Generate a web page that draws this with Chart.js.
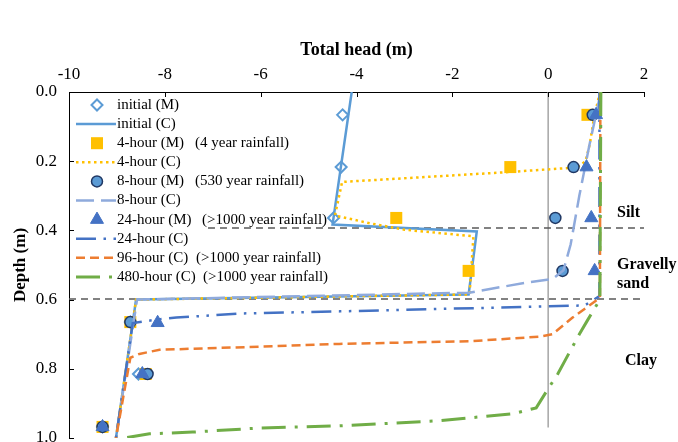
<html>
<head>
<script src="https://cdn.jsdelivr.net/npm/chart.js@4.4.0/dist/chart.umd.min.js"></script>
<style>
    body { margin: 0; overflow: hidden; background: #fff; }
    #wrap { width: 678px; height: 470px; }
</style>
</head>
<body>
<div id="wrap"><canvas id="myChart"></canvas></div>
<script>
    var serif = "'Liberation Serif', 'Times New Roman', serif";

    // axis ticks
    var headTicks = [-10, -8, -6, -4, -2, 0, 2];
    var depthTicks = [0, 0.2, 0.4, 0.6, 0.8, 1.0];

    // measured values [total head, depth]
    var initialM = [[-4.29, 0.066], [-4.32, 0.217], [-4.48, 0.364], [-8.72, 0.665], [-8.55, 0.815], [-9.3, 0.968]];
    var fourHourM = [[0.82, 0.066], [-0.79, 0.217], [-3.17, 0.364], [-1.66, 0.517], [-8.72, 0.665], [-8.4, 0.815], [-9.3, 0.968]];
    var eightHourM = [[0.93, 0.066], [0.53, 0.217], [0.15, 0.364], [0.30, 0.517], [-8.72, 0.665], [-8.36, 0.815], [-9.3, 0.968]];
    var dayM = [[1.0, 0.066], [0.80, 0.217], [0.9, 0.364], [0.97, 0.517], [-8.15, 0.667], [-8.47, 0.815], [-9.3, 0.968]];

    // computed profiles [total head, depth]
    var initialC = [[-4.1, 0], [-4.5, 0.383], [-1.49, 0.403], [-1.66, 0.585], [-8.6, 0.6], [-9.02, 1.0]];
    var fourHourC = [[1.08, 0], [0.95, 0.08], [0.87, 0.15], [0.78, 0.2], [0.6, 0.218], [-0.9, 0.232], [-4.3, 0.26],
        [-4.45, 0.357], [-3.7, 0.38], [-3.0, 0.398], [-1.56, 0.417], [-1.64, 0.585], [-8.6, 0.6], [-9.02, 1.0]];
    var eightHourC = [[1.1, 0], [0.86, 0.154], [0.65, 0.30], [0.47, 0.44], [0.32, 0.515], [0.1, 0.54], [-0.5, 0.552],
        [-1.65, 0.58], [-8.58, 0.6], [-9.02, 1.0]];
    var dayC = [[1.07, 0], [1.07, 0.59], [0.76, 0.617], [-4.35, 0.634], [-6.38, 0.64], [-7.76, 0.652], [-8.18, 0.658],
        [-8.67, 0.668], [-9.02, 1.0]];
    var fourDayC = [[1.09, 0], [1.08, 0.595], [0.51, 0.652], [0.09, 0.70], [-0.18, 0.707], [-1.58, 0.72], [-4.36, 0.728],
        [-6.02, 0.736], [-8.11, 0.745], [-8.53, 0.757], [-8.72, 0.768], [-9.02, 1.0]];
    var twentyDayC = [[1.1, 0], [1.08, 0.6], [0.82, 0.66], [0.65, 0.70], [0.2, 0.815], [-0.03, 0.864], [-0.25, 0.913],
        [-0.74, 0.93], [-2.27, 0.95], [-4.36, 0.965], [-6.02, 0.971], [-7.42, 0.983], [-8.32, 0.988], [-8.85, 1.0]];

    // layer boundaries and zero head line
    var siltBase = [[-7.1, 0.393], [2, 0.393]];
    var sandBase = [[-10, 0.598], [2, 0.598]];
    var zeroHead = [[0, 0], [0, 0.97]];

    var seriesNames = ['initial (M)', 'initial (C)', '4-hour (M)', '4-hour (C)', '8-hour (M)', '8-hour (C)',
        '24-hour (M)', '24-hour (C)', '96-hour (C)', '480-hour (C)'];
    var rainfallNotes = ['', '', '(4 year rainfall)', '', '(530 year rainfall)', '', '(>1000 year rainfall)', '',
        '(>1000 year rainfall)', '(>1000 year rainfall)'];
    var layerNames = ['Silt', 'Gravelly', 'sand', 'Clay'];

    function toXY(pts) {
        return pts.map(function (p) { return { x: p[0], y: p[1] }; });
    }

    function markers(label, pts, style, radius, fill, border, bw) {
        return {
            label: label, data: toXY(pts), showLine: false,
            pointStyle: style, pointRadius: radius, pointBackgroundColor: fill,
            pointBorderColor: border, pointBorderWidth: bw
        };
    }

    function curve(label, pts, color, width, dash) {
        return {
            label: label, data: toXY(pts), showLine: true, pointRadius: 0,
            borderColor: color, borderWidth: width, borderDash: dash, tension: 0, fill: false
        };
    }

    var datasets = [
        curve('', zeroHead, '#a6a6a6', 1.5, []),
        curve('', siltBase, '#595959', 1.5, [7, 5]),
        curve('', sandBase, '#595959', 1.5, [7, 5]),
        markers(seriesNames[0], initialM, 'rectRot', 5.5, '#ffffff', '#5b9bd5', 2),
        curve(seriesNames[1], initialC, '#5b9bd5', 2.5, []),
        markers(seriesNames[2], fourHourM, 'rect', 8.5, '#ffc000', '#ffc000', 0),
        curve(seriesNames[3], fourHourC, '#ffc000', 2.5, [2.5, 3.5]),
        markers(seriesNames[4], eightHourM, 'circle', 5.5, '#5b9bd5', '#203864', 1.5),
        curve(seriesNames[5], eightHourC, '#8faadc', 2.5, [18, 7]),
        markers(seriesNames[6], dayM, 'triangle', 7.5, '#4472c4', '#4472c4', 1),
        curve(seriesNames[7], dayC, '#4472c4', 2.5, [20, 7.5, 2.5, 7.5, 2.5, 7.5]),
        curve(seriesNames[8], fourDayC, '#ed7d31', 2.5, [9, 5]),
        curve(seriesNames[9], twentyDayC, '#70ad47', 3, [24, 9, 3, 9])
    ];
    // later series are drawn on top, as in the original
    datasets.forEach(function (d, i) { d.order = datasets.length - i; });

    var overlay = {
        id: 'overlay',
        afterDraw: function (chart) {
            var ctx = chart.ctx, a = chart.chartArea;
            var xs = chart.scales.x, ys = chart.scales.y;
            ctx.save();

            // tick marks pointing inside
            ctx.strokeStyle = '#000';
            ctx.lineWidth = 1;
            ctx.setLineDash([]);
            ctx.beginPath();
            headTicks.forEach(function (v) {
                var px = Math.round(xs.getPixelForValue(v)) + 0.5;
                ctx.moveTo(px, a.top); ctx.lineTo(px, a.top + 5);
            });
            depthTicks.forEach(function (v) {
                var py = Math.round(ys.getPixelForValue(v)) + 0.5;
                ctx.moveTo(a.left, py); ctx.lineTo(a.left + 5, py);
            });
            ctx.stroke();

            // legend
            var rowY = 105, step = 19.1;
            var noteX = [0, 0, 195, 0, 195, 0, 202, 0, 196, 203];
            ctx.font = '15px ' + serif;
            ctx.textBaseline = 'middle';
            ctx.fillStyle = '#000';
            seriesNames.forEach(function (name, i) {
                var ds = datasets[i + 3];
                var yy = rowY + i * step;
                ctx.save();
                if (ds.showLine) {
                    ctx.strokeStyle = ds.borderColor;
                    ctx.lineWidth = ds.borderWidth;
                    ctx.setLineDash(ds.borderDash);
                    ctx.beginPath();
                    ctx.moveTo(76, yy); ctx.lineTo(116, yy);
                    ctx.stroke();
                } else {
                    ctx.fillStyle = ds.pointBackgroundColor;
                    ctx.strokeStyle = ds.pointBorderColor;
                    ctx.lineWidth = ds.pointBorderWidth;
                    Chart.helpers.drawPoint(ctx, {
                        pointStyle: ds.pointStyle, radius: ds.pointRadius,
                        borderWidth: ds.pointBorderWidth, rotation: 0
                    }, 97, yy);
                }
                ctx.restore();
                ctx.fillText(name, 117, yy);
                if (rainfallNotes[i]) ctx.fillText(rainfallNotes[i], noteX[i], yy);
            });

            // soil layer names
            ctx.font = 'bold 16px ' + serif;
            ctx.fillText(layerNames[0], 617, 213);
            ctx.fillText(layerNames[1], 617, 265);
            ctx.fillText(layerNames[2], 617, 284);
            ctx.fillText(layerNames[3], 625, 361);
            ctx.restore();
        }
    };

    var ctx = document.getElementById('myChart').getContext('2d');
    var chart = new Chart(ctx, {
        type: 'scatter',
        data: { datasets: datasets },
        options: {
            animation: false,
            responsive: true,
            maintainAspectRatio: false,
            layout: { padding: { left: 0, top: 0, right: 34, bottom: 32 } },
            plugins: { legend: { display: false }, tooltip: { enabled: false } },
            scales: {
                x: {
                    type: 'linear', position: 'top', min: -10, max: 2,
                    ticks: { stepSize: 2, color: '#000', font: { family: serif, size: 17 }, padding: 7 },
                    grid: { display: false, drawTicks: false },
                    border: { display: true, color: '#000', width: 1 },
                    title: {
                        display: true, text: 'Total head (m)', color: '#000',
                        font: { family: serif, size: 18, weight: 'bold' }, padding: { top: 40, bottom: 0 }
                    },
                    afterFit: function (s) { s.height = 92; }
                },
                y: {
                    type: 'linear', reverse: true, min: 0, max: 1,
                    ticks: {
                        stepSize: 0.2, color: '#000', font: { family: serif, size: 17 }, padding: 12,
                        callback: function (v) { return v.toFixed(1); }
                    },
                    grid: { display: false, drawTicks: false },
                    border: { display: true, color: '#000', width: 1 },
                    title: {
                        display: true, text: 'Depth (m)', color: '#000',
                        font: { family: serif, size: 17, weight: 'bold' }, padding: { top: 10, bottom: 0 }
                    },
                    afterFit: function (s) { s.width = 69; }
                }
            }
        },
        plugins: [overlay]
    });
</script>
</body>
</html>
